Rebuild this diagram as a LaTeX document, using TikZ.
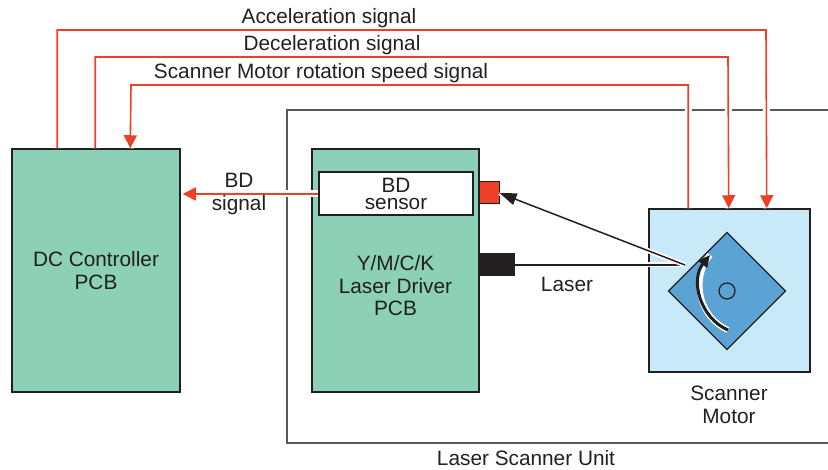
\documentclass[tikz,border=0pt]{standalone}
\usepackage{fontspec}
\setmainfont{Liberation Sans}
\usetikzlibrary{arrows.meta}

\definecolor{pcbgreen}{HTML}{8BD0B7}
\definecolor{motorblue}{HTML}{C7E9F8}
\definecolor{mirrorblue}{HTML}{5AA3D4}
\definecolor{sigred}{HTML}{EE4026}
\definecolor{ink}{HTML}{231F20}
\definecolor{unitgray}{HTML}{58595B}

\begin{document}
\begin{tikzpicture}[x=1pt, y=-1pt,
    every node/.style={font=\fontsize{20.8}{22.5}\selectfont, text=ink, align=center, inner sep=0pt},
    board/.style={draw=ink, line width=1.5pt, rectangle},
    sig/.style={sigred, line width=1.6pt, -{Triangle[length=13pt,width=13pt]},
        preaction={draw=white, line width=7pt, -}},
    beam/.style={ink, line width=1.5pt, preaction={draw=white, line width=5pt, -}}]

    \useasboundingbox (0,0) rectangle (828,470);

    % Laser Scanner Unit frame
    \draw[unitgray, line width=1.3pt] (828,110) -| (287,443) -- (828,443);
    \node (unit) at (526,458) {Laser Scanner Unit};

    % boxes
    \node[board, fill=pcbgreen, minimum width=168, minimum height=243] (dc) at (96,270.5) {DC Controller\\PCB};
    \node[board, fill=pcbgreen, minimum width=167, minimum height=243] (driver) at (395.5,270.5) {};
    \node (driverlbl) at (395.5,286) {Y/M/C/K\\Laser Driver\\PCB};
    \node[board, fill=motorblue, minimum width=161, minimum height=163] (scan) at (729.5,290.5) {};
    \node (scanlbl) at (729,405) {Scanner\\Motor};

    % signals from DC Controller to Scanner Motor
    \draw[sig] ([xshift=46]dc.north west) |- (766,30) -- ([xshift=-44]scan.north east);
    \draw[sig] ([xshift=84]dc.north west) |- (728,57) -- ([xshift=-82]scan.north east);
    \draw[sig] ([xshift=40]scan.north west) |- (131,85) -- ([xshift=119]dc.north west);
    \node (accel) at (329,18) {Acceleration signal};
    \node (decel) at (332,45) {Deceleration signal};
    \node (speed) at (321,73) {Scanner Motor rotation speed signal};

    % BD sensor and signal
    \draw[sig, shorten >=2pt] (319,194) -- (dc.east |- 0,194);
    \node[board, fill=white, line width=1.3pt, minimum width=154, minimum height=43,
        font=\fontsize{20.8}{17}\selectfont] (sensor) at (396,193.5) {BD\\sensor};
    \node (bdlbl) at (239,194) {BD\\signal};
    \node[draw=ink, fill=sigred, line width=1pt, minimum width=20, minimum height=22] (bdchip) at (489,193) {};
    \node[fill=ink, minimum width=36, minimum height=23] (diode) at (497,264.5) {};

    % polygon mirror
    \node[draw=ink, fill=mirrorblue, line width=1.2pt, rotate=45, minimum size=82.7] (mirror) at (727,291) {};
    \node[circle, draw=ink, line width=1.2pt, minimum size=16] (axis) at (mirror.center) {};
    \draw[ink, line width=3pt, -{Triangle[length=12pt,width=11pt]},
        preaction={draw=white, line width=6pt, -}]
        (728,330) .. controls (700,318) and (690,280) .. (710,255);

    % laser path
    \coordinate (refl) at (685,265);
    \draw[beam] (diode.east |- refl) -- (refl);
    \draw[beam, -{Triangle[length=17pt,width=12pt]}] (refl) -- (bdchip.east);
    \node (laserlbl) at (567,284) {Laser};

\end{tikzpicture}
\end{document}
